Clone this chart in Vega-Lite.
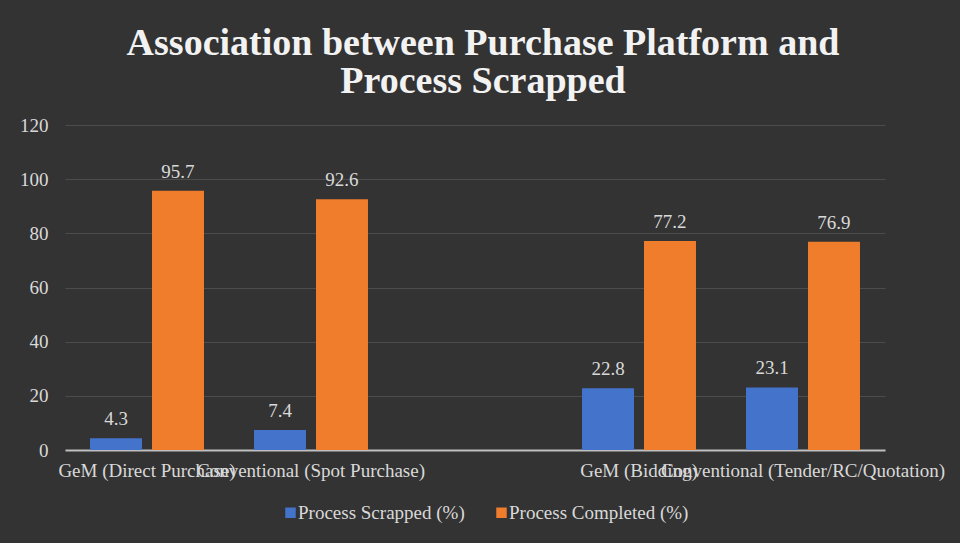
{
  "$schema": "https://vega.github.io/schema/vega-lite/v6.json",
  "width": 820,
  "height": 325,
  "autosize": "none",
  "padding": {"left": 65, "top": 125, "right": 75, "bottom": 93},
  "background": "#333333",
  "title": {
    "text": ["Association between Purchase Platform and", "Process Scrapped"],
    "font": "Liberation Serif",
    "fontWeight": "bold",
    "fontSize": 38,
    "lineHeight": 38,
    "color": "#f2f2f2",
    "anchor": "middle",
    "dx": 8,
    "offset": 15
  },
  "config": {
    "view": {"stroke": null},
    "font": "Liberation Serif"
  },
  "data": {
    "values": [
      {"platform": "GeM (Direct Purchase)", "series": "Process Scrapped (%)", "value": 4.3},
      {"platform": "GeM (Direct Purchase)", "series": "Process Completed (%)", "value": 95.7},
      {"platform": "Conventional (Spot Purchase)", "series": "Process Scrapped (%)", "value": 7.4},
      {"platform": "Conventional (Spot Purchase)", "series": "Process Completed (%)", "value": 92.6},
      {"platform": "GeM (Bidding)", "series": "Process Scrapped (%)", "value": 22.8},
      {"platform": "GeM (Bidding)", "series": "Process Completed (%)", "value": 77.2},
      {"platform": "Conventional (Tender/RC/Quotation)", "series": "Process Scrapped (%)", "value": 23.1},
      {"platform": "Conventional (Tender/RC/Quotation)", "series": "Process Completed (%)", "value": 76.9}
    ]
  },
  "encoding": {
    "x": {
      "field": "platform",
      "type": "nominal",
      "sort": null,
      "scale": {
        "domain": ["GeM (Direct Purchase)", "Conventional (Spot Purchase)", " ", "GeM (Bidding)", "Conventional (Tender/RC/Quotation)"],
        "paddingInner": 0.305,
        "paddingOuter": 0.1525
      },
      "axis": {
        "title": null,
        "labelAngle": 0,
        "labelFont": "Liberation Serif",
        "labelFontSize": 19,
        "labelColor": "#d9d9d9",
        "labelOverlap": false,
        "labelBound": false,
        "labelLimit": 0,
        "labelPadding": 11,
        "ticks": false,
        "domainColor": "#bfbfbf",
        "domainWidth": 2,
        "grid": false
      }
    },
    "xOffset": {
      "field": "series",
      "type": "nominal",
      "sort": ["Process Scrapped (%)", "Process Completed (%)"],
      "scale": {"paddingInner": 0.161, "paddingOuter": 0}
    },
    "y": {
      "field": "value",
      "type": "quantitative",
      "scale": {"domain": [0, 120]},
      "axis": {
        "title": null,
        "values": [0, 20, 40, 60, 80, 100, 120],
        "labelFont": "Liberation Serif",
        "labelFontSize": 19,
        "labelColor": "#d9d9d9",
        "labelPadding": 17,
        "ticks": false,
        "domain": false,
        "gridColor": "#4c4c4c",
        "gridWidth": 1
      }
    }
  },
  "layer": [
    {
      "mark": {"type": "bar"},
      "encoding": {
        "color": {
          "field": "series",
          "type": "nominal",
          "sort": ["Process Scrapped (%)", "Process Completed (%)"],
          "scale": {"domain": ["Process Scrapped (%)", "Process Completed (%)"], "range": ["#4473CC", "#EF7D2C"]},
          "legend": {
            "title": null,
            "orient": "none",
            "legendX": 216,
            "legendY": 378,
            "direction": "horizontal",
            "symbolType": "square",
            "symbolSize": 110,
            "symbolStrokeWidth": 0,
            "labelFont": "Liberation Serif",
            "labelFontSize": 19,
            "labelColor": "#d9d9d9",
            "labelLimit": 0,
            "labelOffset": -2,
            "columnPadding": 27
          }
        }
      }
    },
    {
      "mark": {"type": "text", "dy": -13, "font": "Liberation Serif", "fontSize": 19, "color": "#d9d9d9", "baseline": "alphabetic"},
      "encoding": {
        "text": {"field": "value", "type": "quantitative", "format": ".1f"}
      }
    }
  ]
}
